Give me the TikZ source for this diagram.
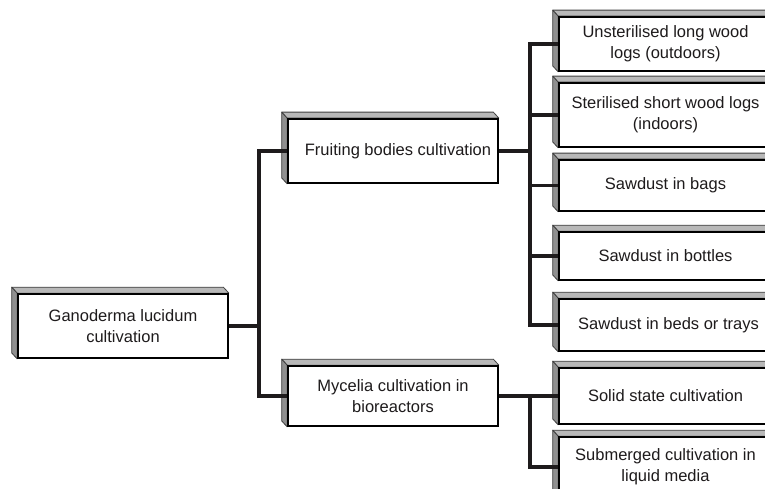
\documentclass[tikz,border=0pt]{standalone}
\usepackage{fontspec}
\setmainfont{Liberation Sans}
\usetikzlibrary{backgrounds,calc}
\definecolor{ink}{HTML}{1E1B1C}
\definecolor{bevtop}{HTML}{B8B8B8}
\definecolor{bevside}{HTML}{909090}
\tikzset{
  box/.style={draw=black, line width=1.7pt, fill=white, inner sep=0pt,
    align=center, text=ink, font=\fontsize{16.5}{21}\selectfont},
  leftbox/.style={box, minimum width=210},
  rightbox/.style={box, minimum width=213},
  conn/.style={draw=ink, line width=3.3pt, line join=miter},
  bevelline/.style={draw=black!75, line width=0.8pt, line join=round},
}
% grey 3-D rim along the top and left side of a box
\newcommand\bevelrim[1]{%
  \filldraw[bevelline, fill=bevtop] (#1.north west) -- ($(#1.north west)+(-5.5,-6)$)
    -- ($(#1.north east)+(-5.5,-6)$) -- (#1.north east) -- cycle;
  \filldraw[bevelline, fill=bevside] (#1.south west) -- ($(#1.south west)+(-5.5,-6)$)
    -- ($(#1.north west)+(-5.5,-6)$) -- (#1.north west) -- cycle;
}
\begin{document}
\begin{tikzpicture}[x=1pt, y=-1pt]
  \useasboundingbox (0,0) rectangle (765,489);
  \clip (0,0) rectangle (765,489);

  % root
  \node[leftbox, minimum height=64] (G) at (123,326) {Ganoderma lucidum\\cultivation};

  % second level
  \node[leftbox, minimum height=64] (F) at (393,151) {\hspace*{10pt}Fruiting bodies cultivation};
  \node[leftbox, minimum height=60] (M) at (393,396) {Mycelia cultivation in\\bioreactors};

  % third level
  \node[rightbox, minimum height=54] (R1) at (665.5,44) {Unsterilised long wood\\logs (outdoors)};
  \node[rightbox, minimum height=64] (R2) at (665.5,115) {Sterilised short wood logs\\(indoors)};
  \node[rightbox, minimum height=51] (R3) at (665.5,185.5) {Sawdust in bags};
  \node[rightbox, minimum height=48] (R4) at (665.5,256) {Sawdust in bottles};
  \node[rightbox, minimum height=52] (R5) at (665.5,325) {\hspace*{6pt}Sawdust in beds or trays};
  \node[rightbox, minimum height=56] (R6) at (665.5,396) {Solid state cultivation};
  \node[rightbox, minimum height=60] (R7) at (665.5,467) {Submerged cultivation in\\liquid media};

  \begin{pgfonlayer}{background}
    \foreach \b in {G,F,M,R1,R2,R3,R4,R5,R6,R7} {\bevelrim{\b}}
  \end{pgfonlayer}

  % junction points of the bracket connectors
  \coordinate (j1) at (259,326);
  \coordinate (j2) at (530,151);
  \coordinate (j3) at (530,396);

  \draw[conn] (G.east) -- (j1);
  \draw[conn] (F.west) -| (j1);
  \draw[conn] (M.west) -| (j1);

  \draw[conn] (F.east) -- (j2);
  \draw[conn] (R1.west) -| (j2);
  \draw[conn] (R2.west) -| (j2);
  \draw[conn] (R3.west) -| (j2);
  \draw[conn] (R4.west) -| (j2);
  \draw[conn] (R5.west) -| (j2);

  \draw[conn] (M.east) -- (j3);
  \draw[conn] (R6.west) -| (j3);
  \draw[conn] (R7.west) -| (j3);
\end{tikzpicture}
\end{document}
